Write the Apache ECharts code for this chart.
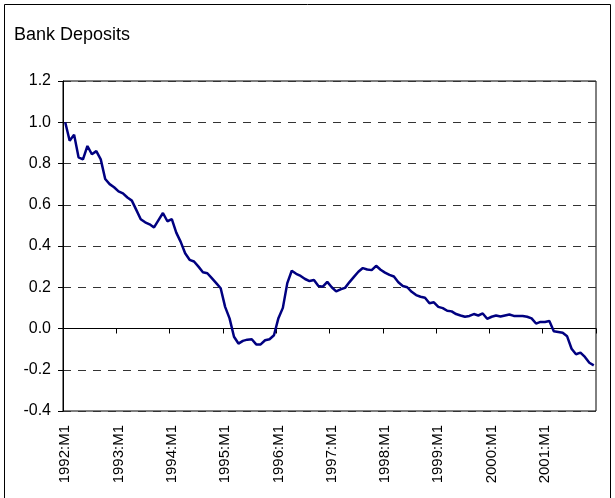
<!DOCTYPE html>
<html>
<head>
<meta charset="utf-8">
<script src="https://cdn.jsdelivr.net/npm/echarts@6/dist/echarts.min.js"></script>
<style>
  html, body { margin: 0; padding: 0; background: #fff; }
  #main { width: 615px; height: 498px; }
</style>
</head>
<body>
<div id="main"></div>
<script>
// monthly observations, 1992:M1 .. 2001:M12
const years = [1992, 1993, 1994, 1995, 1996, 1997, 1998, 1999, 2000, 2001];
const months = [];
years.forEach(y => { for (let m = 1; m <= 12; m++) months.push(y + ':M' + m); });

const deposits = [
  1.00, 0.91, 0.94, 0.83, 0.82, 0.885, 0.845, 0.86, 0.82, 0.725, 0.70, 0.685,
  0.665, 0.655, 0.635, 0.62, 0.575, 0.53, 0.515, 0.505, 0.49, 0.525, 0.56, 0.52,
  0.53, 0.465, 0.42, 0.365, 0.333, 0.325, 0.30, 0.273, 0.268, 0.244, 0.22, 0.195,
  0.105, 0.049, -0.04, -0.073, -0.06, -0.054, -0.052, -0.077, -0.077, -0.057, -0.052, -0.033,
  0.05, 0.10, 0.22, 0.28, 0.265, 0.255, 0.24, 0.23, 0.235, 0.206, 0.203, 0.226,
  0.20, 0.18, 0.19, 0.197, 0.225, 0.25, 0.275, 0.293, 0.286, 0.283, 0.304, 0.285,
  0.271, 0.26, 0.252, 0.224, 0.206, 0.20, 0.178, 0.162, 0.154, 0.149, 0.122, 0.127,
  0.105, 0.099, 0.086, 0.083, 0.07, 0.063, 0.057, 0.061, 0.07, 0.063, 0.073, 0.047,
  0.057, 0.063, 0.058, 0.063, 0.068, 0.061, 0.061, 0.061, 0.057, 0.049, 0.024, 0.032,
  0.032, 0.036, -0.013, -0.017, -0.021, -0.038, -0.098, -0.125, -0.117, -0.138, -0.166, -0.179
];

const font = 'Liberation Sans, Arial, sans-serif';
const chart = echarts.init(document.getElementById('main'));

chart.setOption({
  animation: false,
  backgroundColor: '#fff',
  title: {
    text: 'Bank Deposits',
    left: 14,
    top: 26,
    padding: 0,
    textStyle: { fontFamily: font, fontSize: 18, fontWeight: 'normal', color: '#000' }
  },
  graphic: [{
    type: 'rect',
    shape: { x: 4.5, y: 4.5, width: 606, height: 510 },
    style: { fill: null, stroke: '#000', lineWidth: 1 },
    silent: true
  }],
  grid: {
    left: 63, right: 19, top: 81, bottom: 87,
    show: true, borderColor: '#000', borderWidth: 1
  },
  xAxis: [
    {
      type: 'category',
      data: months,
      boundaryGap: true,
      position: 'bottom',
      axisLine: { onZero: true, lineStyle: { color: '#000', width: 1 } },
      axisTick: { show: true, interval: 11, length: 5, lineStyle: { color: '#000' } },
      axisLabel: { show: false },
      splitLine: { show: false }
    },
    {
      type: 'category',
      data: months,
      boundaryGap: true,
      position: 'bottom',
      axisLine: { show: false, onZero: false },
      axisTick: { show: false },
      axisLabel: {
        interval: 11, rotate: 90, margin: 14,
        fontFamily: font, fontSize: 15, color: '#000'
      },
      splitLine: { show: false }
    }
  ],
  yAxis: {
    type: 'value',
    min: -0.4, max: 1.2, interval: 0.2,
    axisLine: { show: true, lineStyle: { color: '#000', width: 1 } },
    axisTick: { show: true, length: 5, lineStyle: { color: '#000' } },
    axisLabel: {
      margin: 12, fontFamily: font, fontSize: 16, color: '#000',
      formatter: v => v.toFixed(1)
    },
    splitLine: { show: true, lineStyle: { color: '#333', width: 1, type: [8, 7] } }
  },
  series: [{
    type: 'line',
    xAxisIndex: 0,
    data: deposits,
    showSymbol: false,
    lineStyle: { color: '#000080', width: 2.5 }
  }]
});
</script>
</body>
</html>
